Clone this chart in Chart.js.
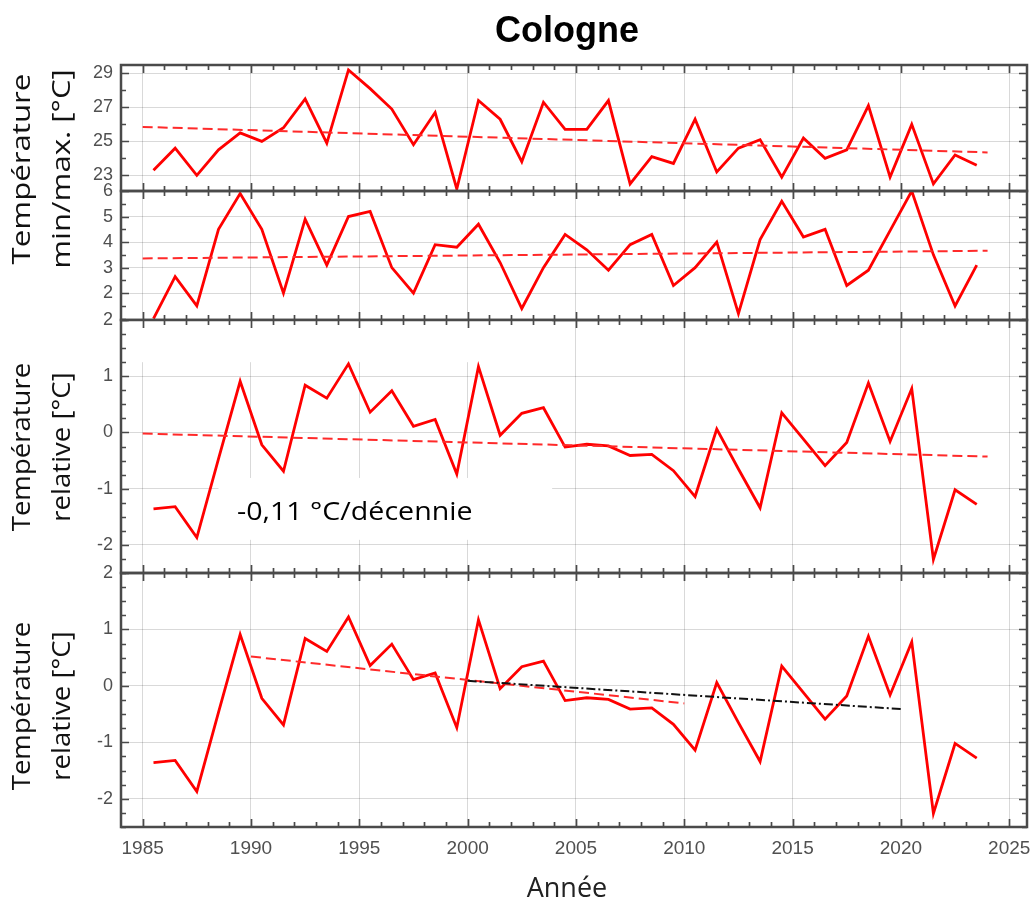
<!DOCTYPE html>
<html>
<head>
<meta charset="utf-8">
<script src="https://cdn.jsdelivr.net/npm/chart.js@4.4.1/dist/chart.umd.min.js"></script>
<style>
html,body{margin:0;padding:0;background:#fff;}
#wrap{position:relative;width:1031px;height:904px;overflow:hidden;background:#fff;}
canvas{position:absolute;left:0;}
.t{position:absolute;white-space:nowrap;color:#111;}
.ytitle{position:absolute;font-family:"Open Sans",sans-serif;font-size:26px;line-height:40px;text-align:center;color:#111;white-space:nowrap;width:300px;height:80px;transform-origin:50% 50%;}
</style>
</head>
<body>
<div id="wrap">
  <canvas id="p1" width="1031" height="166" style="top:45px"></canvas>
  <canvas id="p2" width="1031" height="169" style="top:171px"></canvas>
  <canvas id="p3" width="1031" height="293" style="top:300px"></canvas>
  <canvas id="p4" width="1031" height="324" style="top:553px"></canvas>

  <div class="t" style="left:417px;top:12px;width:300px;text-align:center;font-family:'Liberation Sans',Arial,sans-serif;font-weight:bold;font-size:36px;line-height:36px;color:#000;">Cologne</div>
  <div class="ytitle" style="left:-110px;top:129px;transform:rotate(-90deg) scaleX(1.2);">Température<br>min/max. [°C]</div>
  <div class="ytitle" style="left:-110px;top:407px;transform:rotate(-90deg) scaleX(1.06);">Température<br>relative [°C]</div>
  <div class="ytitle" style="left:-110px;top:666px;transform:rotate(-90deg) scaleX(1.06);">Température<br>relative [°C]</div>
  <div class="t" style="left:237px;top:497px;font-family:'Open Sans',sans-serif;font-size:26px;line-height:26px;transform:scaleX(1.1);transform-origin:0 0;color:#000;">-0,11 °C/décennie</div>
  <div class="t" style="left:417px;top:873px;width:300px;text-align:center;font-family:'Open Sans',sans-serif;font-size:27px;line-height:27px;color:#222;">Année</div>
</div>

<script>
// ---------- DATA ----------
const years = [1985.5,1986.5,1987.5,1988.5,1989.5,1990.5,1991.5,1992.5,1993.5,1994.5,
               1995.5,1996.5,1997.5,1998.5,1999.5,2000.5,2001.5,2002.5,2003.5,2004.5,
               2005.5,2006.5,2007.5,2008.5,2009.5,2010.5,2011.5,2012.5,2013.5,2014.5,
               2015.5,2016.5,2017.5,2018.5,2019.5,2020.5,2021.5,2022.5,2023.5];
const tMax = [23.3,24.6,23.0,24.5,25.5,25.0,25.8,27.5,24.9,29.2,
              28.1,26.9,24.8,26.7,22.2,27.4,26.3,23.8,27.3,25.7,
              25.7,27.4,22.5,24.1,23.7,26.3,23.2,24.6,25.1,22.9,
              25.2,24.0,24.5,27.1,22.9,26.0,22.5,24.2,23.6];
const tMin = [1.0,2.65,1.5,4.5,5.9,4.5,2.0,4.9,3.1,5.0,
              5.2,3.0,2.0,3.9,3.8,4.7,3.2,1.4,3.0,4.3,
              3.7,2.9,3.9,4.3,2.3,3.0,4.0,1.2,4.1,5.6,
              4.2,4.5,2.3,2.9,4.45,6.0,3.5,1.5,3.1];
const tRel = [-1.36,-1.32,-1.87,-0.47,0.91,-0.22,-0.69,0.84,0.61,1.22,
              0.36,0.74,0.11,0.23,-0.74,1.17,-0.05,0.34,0.44,-0.26,
              -0.21,-0.24,-0.41,-0.39,-0.68,-1.14,0.06,-0.65,-1.34,0.35,
              -0.12,-0.59,-0.18,0.88,-0.16,0.78,-2.26,-1.02,-1.28];

const trendYears = [1985, 2024];
const tMaxTrend = [25.85, 24.35];
const tMinTrend = [3.36, 3.66];
const tRelTrend = [-0.02, -0.43];
const trend1990Years = [1990, 2010];
const trend1990 = [0.52, -0.31];
const trend2000Years = [2000, 2020];
const trend2000 = [0.09, -0.41];

const xTickLabels = [1985,1990,1995,2000,2005,2010,2015,2020,2025];
const yTicksMax = [23,25,27,29];
const yTicksMin = [2,3,4,5,6];
const yTicksRel = [-2,-1,0,1,2];

// ---------- STYLE / HELPERS ----------
const X_MIN = 1984, X_MAX = 2025.82;
const FRAME = '#4a4a4a';
const GRID = 'rgba(0,0,0,0.15)';
const LABEL = '#505050';

function pts(xs, ys){ return xs.map((x,i)=>({x:x, y:ys[i]})); }

const framePlugin = {
  id:'frame',
  beforeDatasetsDraw(chart, args, opts){
    const {ctx, scales:{x,y}} = chart;
    (opts.masks||[]).forEach(m=>{
      const x0 = x.getPixelForValue(m.x0), x1 = x.getPixelForValue(m.x1);
      const y0 = y.getPixelForValue(m.y0), y1 = y.getPixelForValue(m.y1);
      ctx.save(); ctx.fillStyle='#fff';
      ctx.fillRect(Math.min(x0,x1), Math.min(y0,y1), Math.abs(x1-x0), Math.abs(y1-y0));
      ctx.restore();
    });
  },
  afterDatasetsDraw(chart, args, opts){
    const {ctx, chartArea:a, scales:{x,y}} = chart;
    ctx.save();
    ctx.strokeStyle = FRAME; ctx.lineWidth = 1.7;
    ctx.beginPath();
    for (let yr = 1985; yr <= 2025; yr++){
      const px = Math.round(x.getPixelForValue(yr)) + 0.5;
      const L = (yr % 5 === 0) ? 8 : 5;
      ctx.moveTo(px, a.top); ctx.lineTo(px, a.top + L);
      ctx.moveTo(px, a.bottom); ctx.lineTo(px, a.bottom - L);
    }
    const step = opts.minorStep;
    const n0 = Math.ceil(y.min/step - 1e-9), n1 = Math.floor(y.max/step + 1e-9);
    for (let n = n0; n <= n1; n++){
      const v = n*step;
      const py = Math.round(y.getPixelForValue(v)) + 0.5;
      const major = opts.majors.some(m => Math.abs(m - v) < 1e-6);
      const L = major ? 8 : 5;
      ctx.moveTo(a.left, py); ctx.lineTo(a.left + L, py);
      ctx.moveTo(a.right, py); ctx.lineTo(a.right - L, py);
    }
    ctx.stroke();
    ctx.lineWidth = 2.5;
    ctx.strokeRect(a.left, a.top, a.right - a.left, a.bottom - a.top);
    ctx.restore();
  }
};

function dataLine(vals){
  return {data: pts(years, vals), borderColor:'#ff0000', borderWidth:2.8, order:2};
}
function trendLine(xs, ys, color, dash, order){
  return {data: pts(xs, ys), borderColor:color, borderWidth:2, borderDash:dash, order:order};
}

function panel(id, yMin, yMax, yTicks, minorStep, datasets, bottom, masks){
  return new Chart(document.getElementById(id), {
    type:'line',
    data:{datasets: datasets},
    options:{
      responsive:false, animation:false, devicePixelRatio:1,
      layout:{padding:{left:0, right:4, top:20, bottom: bottom ? 10 : 20}},
      elements:{point:{radius:0, hoverRadius:0}, line:{tension:0, borderCapStyle:'butt', borderJoinStyle:'miter'}},
      plugins:{legend:{display:false}, tooltip:{enabled:false},
               frame:{minorStep:minorStep, majors:yTicks, masks:masks||[]}},
      scales:{
        x:{type:'linear', min:X_MIN, max:X_MAX,
           afterBuildTicks: s => { s.ticks = xTickLabels.map(v=>({value:v})); },
           afterFit: s => { s.height = bottom ? 40 : 0; s.paddingLeft = 0; s.paddingRight = 0; },
           grid:{color:GRID, lineWidth:1, drawTicks:false},
           border:{display:false},
           ticks:{display:bottom, padding:10, color:LABEL, autoSkip:false, maxRotation:0,
                  font:{family:"'Liberation Sans', Arial, sans-serif", size:19},
                  callback: v => String(v)}
        },
        y:{type:'linear', min:yMin, max:yMax,
           afterBuildTicks: s => { s.ticks = yTicks.map(v=>({value:v})); },
           afterFit: s => { s.width = 121; s.paddingTop = 0; s.paddingBottom = 0; },
           grid:{color:GRID, lineWidth:1, drawTicks:false},
           border:{display:false},
           ticks:{padding:8, color:LABEL,
                  font:{family:"'Liberation Sans', Arial, sans-serif", size:18},
                  callback: v => String(v)}
        }
      }
    },
    plugins:[framePlugin]
  });
}

panel('p1', 22.08, 29.49, yTicksMax, 1,
  [dataLine(tMax), trendLine(trendYears, tMaxTrend, '#ff2a2a', [10,5], 1)], false);

panel('p2', 0.95, 6.0, yTicksMin, 0.5,
  [dataLine(tMin), trendLine(trendYears, tMinTrend, '#ff2a2a', [10,5], 1)], false);

panel('p3', -2.5, 2, yTicksRel, 0.25,
  [dataLine(tRel), trendLine(trendYears, tRelTrend, '#ff2a2a', [10,5], 1)], false,
  [{x0:1984.3, x1:2003.9, y0:2, y1:1.25}, {x0:1988.5, x1:2003.9, y0:-0.81, y1:-1.91}]);

panel('p4', -2.5, 2, yTicksRel, 0.25,
  [dataLine(tRel),
   trendLine(trend1990Years, trend1990, '#ff2a2a', [10,5], 1),
   trendLine(trend2000Years, trend2000, '#111111', [9,3,2,3], 0)], true);
</script>
</body>
</html>
